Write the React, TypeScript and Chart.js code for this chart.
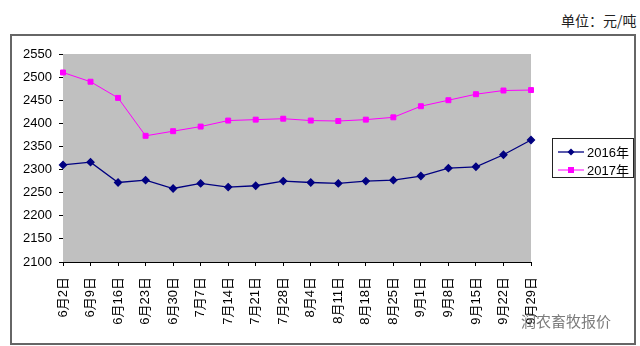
import React, { useEffect, useRef } from "react";
import { Chart, registerables } from "chart.js";
Chart.register(...registerables);

const categories = ["6月2日","6月9日","6月16日","6月23日","6月30日","7月7日","7月14日","7月21日","7月28日","8月4日","8月11日","8月18日","8月25日","9月1日","9月8日","9月15日","9月22日","9月29日"];
const series2016 = [2310,2316,2272,2277,2259,2270,2262,2265,2275,2272,2270,2275,2277,2286,2303,2306,2332,2364];
const series2017 = [2510,2490,2455,2373,2383,2393,2406,2408,2410,2406,2405,2408,2413,2437,2450,2463,2471,2472];
const seriesLabels = ["2016年", "2017年"];
const yMin = 2100;
const yMax = 2550;
const yStep = 50;
const unitText = "单位：元/吨";
const watermarkText = "润农畜牧报价";

const FONT = "'Liberation Sans', 'Noto Sans CJK SC', sans-serif";

const plotBg = {
  id: "plotBg",
  beforeDatasetsDraw(chart: any) {
    const { ctx, chartArea } = chart;
    ctx.save();
    ctx.fillStyle = "#c0c0c0";
    ctx.fillRect(chartArea.left, chartArea.top, chartArea.right - chartArea.left, chartArea.bottom - chartArea.top);
    ctx.restore();
  },
};

const boxLegend = {
  id: "boxLegend",
  afterDraw(chart: any) {
    const { ctx } = chart;
    const x = 552, y = 138, w = 81, h = 39;
    ctx.save();
    ctx.fillStyle = "#ffffff";
    ctx.fillRect(x, y, w, h);
    ctx.strokeStyle = "#222";
    ctx.lineWidth = 1;
    ctx.strokeRect(x + 0.5, y + 0.5, w, h);
    chart.data.datasets.forEach((ds: any, i: number) => {
      const cy = y + 14 + i * 18;
      ctx.strokeStyle = ds.borderColor;
      ctx.lineWidth = ds.borderWidth;
      ctx.beginPath();
      ctx.moveTo(558, cy);
      ctx.lineTo(584, cy);
      ctx.stroke();
      ctx.fillStyle = ds.pointBackgroundColor;
      ctx.beginPath();
      if (ds.pointStyle === "rectRot") {
        ctx.moveTo(571, cy - 3.5);
        ctx.lineTo(574.5, cy);
        ctx.lineTo(571, cy + 3.5);
        ctx.lineTo(567.5, cy);
        ctx.closePath();
      } else {
        ctx.rect(568, cy - 3, 6, 6);
      }
      ctx.fill();
      ctx.fillStyle = "#000";
      ctx.font = "13px " + FONT;
      ctx.textBaseline = "middle";
      ctx.textAlign = "left";
      ctx.fillText(ds.label, 587, cy + 1);
    });
    ctx.restore();
  },
};

export default function App() {
  const canvasRef = useRef<HTMLCanvasElement>(null);

  useEffect(() => {
    const chart = new Chart(canvasRef.current as HTMLCanvasElement, {
      type: "line",
      data: {
        labels: categories,
        datasets: [
          {
            label: seriesLabels[0],
            data: series2016,
            borderColor: "#000080",
            backgroundColor: "#000080",
            pointBackgroundColor: "#000080",
            pointBorderColor: "#000080",
            pointStyle: "rectRot",
            pointRadius: 3.5,
            borderWidth: 1.3,
            tension: 0,
          },
          {
            label: seriesLabels[1],
            data: series2017,
            borderColor: "#ff00ff",
            backgroundColor: "#ff00ff",
            pointBackgroundColor: "#ff00ff",
            pointBorderColor: "#ff00ff",
            pointStyle: "rect",
            pointRadius: 3.5,
            borderWidth: 1,
            tension: 0,
          },
        ],
      },
      options: {
        responsive: false,
        animation: false,
        layout: { padding: { left: 0, top: 54, right: 109, bottom: 0 } },
        plugins: { legend: { display: false }, tooltip: { enabled: false } },
        scales: {
          x: {
            offset: false,
            grid: { display: true, drawOnChartArea: false, color: "#000", tickLength: 4 },
            border: { display: true, color: "#000", width: 1 },
            ticks: {
              autoSkip: false,
              minRotation: 90,
              maxRotation: 90,
              padding: 11,
              color: "#000",
              font: { family: FONT, size: 13 },
            },
            afterFit(scale: any) {
              scale.height = 84;
            },
          },
          y: {
            min: yMin,
            max: yMax,
            grid: { display: true, drawOnChartArea: false, color: "#000", tickLength: 4 },
            border: { display: true, color: "#000", width: 1 },
            ticks: {
              stepSize: yStep,
              padding: 7,
              color: "#000",
              font: { family: FONT, size: 13 },
              callback: (v: any) => String(v),
            },
            afterFit(scale: any) {
              scale.width = 63;
            },
          },
        },
      },
      plugins: [plotBg, boxLegend],
    } as any);
    return () => chart.destroy();
  }, []);

  return (
    <div style={{ position: "absolute", left: 0, top: 0, width: 640, height: 346, overflow: "hidden", background: "#fff" }}>
      <div
        style={{
          position: "absolute",
          left: 561,
          top: 10,
          whiteSpace: "nowrap",
          fontFamily: "'Noto Sans CJK SC', sans-serif",
          fontSize: 14,
          color: "#222",
        }}
      >
        {unitText}
      </div>
      <div
        style={{
          position: "absolute",
          left: 10,
          top: 34,
          width: 622,
          height: 307,
          border: "2px solid #666",
        }}
      />
      <canvas ref={canvasRef} width={640} height={346} style={{ position: "absolute", left: 0, top: 0, display: "block" }} />
      <div
        style={{
          position: "absolute",
          left: 521,
          top: 310,
          whiteSpace: "nowrap",
          fontFamily: "'Noto Sans CJK SC', sans-serif",
          fontSize: 15,
          color: "#666",
          opacity: 0.85,
        }}
      >
        {watermarkText}
      </div>
    </div>
  );
}
